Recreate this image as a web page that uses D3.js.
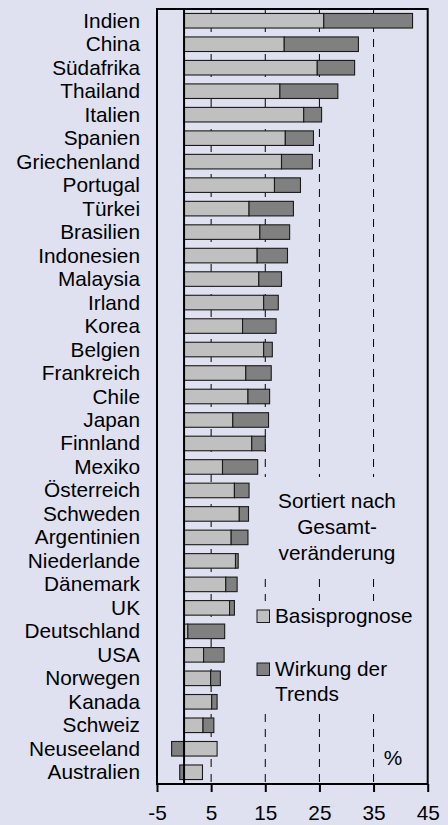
<!DOCTYPE html>
<html>
<head>
<meta charset="utf-8">
<script src="https://cdn.jsdelivr.net/npm/d3@7"></script>
<style>
  html, body { margin: 0; padding: 0; background: #dfe1f0; }
  svg { display: block; font-family: "Liberation Sans", Arial, sans-serif; }
</style>
</head>
<body>
<svg id="chart" width="448" height="825"></svg>
<script>
// Länder, sortiert nach Gesamtveränderung (%)
const countries = ["Indien","China","Südafrika","Thailand","Italien","Spanien","Griechenland","Portugal",
  "Türkei","Brasilien","Indonesien","Malaysia","Irland","Korea","Belgien","Frankreich","Chile","Japan",
  "Finnland","Mexiko","Österreich","Schweden","Argentinien","Niederlande","Dänemark","UK","Deutschland",
  "USA","Norwegen","Kanada","Schweiz","Neuseeland","Australien"];

// Basisprognose
const basis = [25.8, 18.5, 24.6, 17.7, 22.1, 18.7, 18.0, 16.7, 12.0, 14.0, 13.5, 13.8, 14.7, 10.8, 14.7,
  11.4, 11.8, 9.0, 12.5, 7.1, 9.3, 10.2, 8.7, 9.5, 7.7, 8.4, 0.7, 3.6, 4.9, 5.1, 3.5, 6.1, 3.4];

// Wirkung der Trends
const trends = [16.4, 13.7, 6.9, 10.7, 3.3, 5.2, 5.7, 4.8, 8.2, 5.5, 5.6, 4.2, 2.7, 6.2, 1.6,
  4.7, 4.0, 6.6, 2.5, 6.5, 2.7, 1.7, 3.1, 0.5, 2.1, 0.9, 6.8, 3.8, 1.8, 1.0, 2.0, -2.3, -0.8];

const tickValues = [-5, 5, 15, 25, 35, 45];

const bg = "#dfe1f0";
const colors = { basis: "#c0c0c0", trends: "#808080" };
const fontSize = 20.8;

const svg = d3.select("#chart");
const plotLeft = 157, plotRight = 427.7, plotTop = 9, plotBottom = 784;

const x = d3.scaleLinear().domain([-5, 45]).range([plotLeft, plotRight]);
const y = d3.scaleBand().domain(countries).range([plotTop, plotBottom]).paddingInner(0.38).paddingOuter(0.19);

const rows = countries.map((c, i) => ({ country: c, basis: basis[i], trends: trends[i] }));
const stack = d3.stack().keys(["basis", "trends"]).offset(d3.stackOffsetDiverging);
const layers = stack(rows);

// dashed grid lines
svg.append("g")
  .selectAll("line")
  .data(tickValues.filter(t => t > -5 && t < 45))
  .join("line")
  .attr("x1", d => x(d)).attr("x2", d => x(d))
  .attr("y1", plotTop).attr("y2", plotBottom)
  .attr("stroke", "#000").attr("stroke-width", 1)
  .attr("stroke-dasharray", "8,7");

// opaque panels behind the note and the legend
svg.append("rect").attr("x", 248).attr("y", 477).attr("width", 175).attr("height", 100).attr("fill", bg);
svg.append("rect").attr("x", 248).attr("y", 601).attr("width", 175).attr("height", 106).attr("fill", bg);

// bars
svg.append("g")
  .selectAll("g")
  .data(layers)
  .join("g")
  .attr("fill", d => colors[d.key])
  .selectAll("rect")
  .data(d => d)
  .join("rect")
  .attr("x", d => x(Math.min(d[0], d[1])))
  .attr("y", d => y(d.data.country))
  .attr("width", d => Math.abs(x(d[1]) - x(d[0])))
  .attr("height", y.bandwidth())
  .attr("stroke", "#1a1a1a")
  .attr("stroke-width", 1.1);

// zero line
svg.append("line")
  .attr("x1", x(0)).attr("x2", x(0)).attr("y1", plotTop).attr("y2", plotBottom)
  .attr("stroke", "#000").attr("stroke-width", 2);

// frame
svg.append("rect")
  .attr("x", plotLeft).attr("y", plotTop).attr("width", plotRight - plotLeft).attr("height", plotBottom - plotTop)
  .attr("fill", "none").attr("stroke", "#000").attr("stroke-width", 2);

// bottom axis
const axis = svg.append("g")
  .attr("transform", `translate(0,${plotBottom})`)
  .call(d3.axisBottom(x).tickValues(tickValues).tickSize(8).tickFormat(d => String(d)));
axis.select(".domain").remove();
axis.selectAll(".tick line").attr("stroke", "#000").attr("stroke-width", 2);
axis.selectAll(".tick text")
  .attr("y", 36).attr("dy", null)
  .attr("font-size", fontSize).attr("fill", "#000")
  .attr("font-family", "'Liberation Sans', Arial, sans-serif");

// category labels
svg.append("g")
  .selectAll("text")
  .data(countries)
  .join("text")
  .attr("x", 140)
  .attr("y", d => y(d) + y.bandwidth() / 2 + 7)
  .attr("text-anchor", "end")
  .attr("font-size", fontSize)
  .attr("fill", "#000")
  .text(d => d);

// note
const note = ["Sortiert nach", "Gesamt-", "veränderung"];
svg.append("g")
  .selectAll("text")
  .data(note)
  .join("text")
  .attr("x", 337)
  .attr("y", (d, i) => 508 + i * 26)
  .attr("text-anchor", "middle")
  .attr("font-size", fontSize)
  .attr("fill", "#000")
  .text(d => d);

// legend
const legend = svg.append("g");
const legendItems = [
  { key: "basis", lines: ["Basisprognose"], y: 610 },
  { key: "trends", lines: ["Wirkung der", "Trends"], y: 663 }
];
legendItems.forEach(item => {
  legend.append("rect")
    .attr("x", 257).attr("y", item.y).attr("width", 12.5).attr("height", 12.5)
    .attr("fill", colors[item.key]).attr("stroke", "#1a1a1a").attr("stroke-width", 1);
  item.lines.forEach((t, i) => {
    legend.append("text")
      .attr("x", 275).attr("y", item.y + 13 + i * 25)
      .attr("font-size", fontSize).attr("fill", "#000")
      .text(t);
  });
});

// unit
svg.append("text")
  .attr("x", 393).attr("y", 765)
  .attr("text-anchor", "middle")
  .attr("font-size", fontSize).attr("fill", "#000")
  .text("%");
</script>
</body>
</html>
